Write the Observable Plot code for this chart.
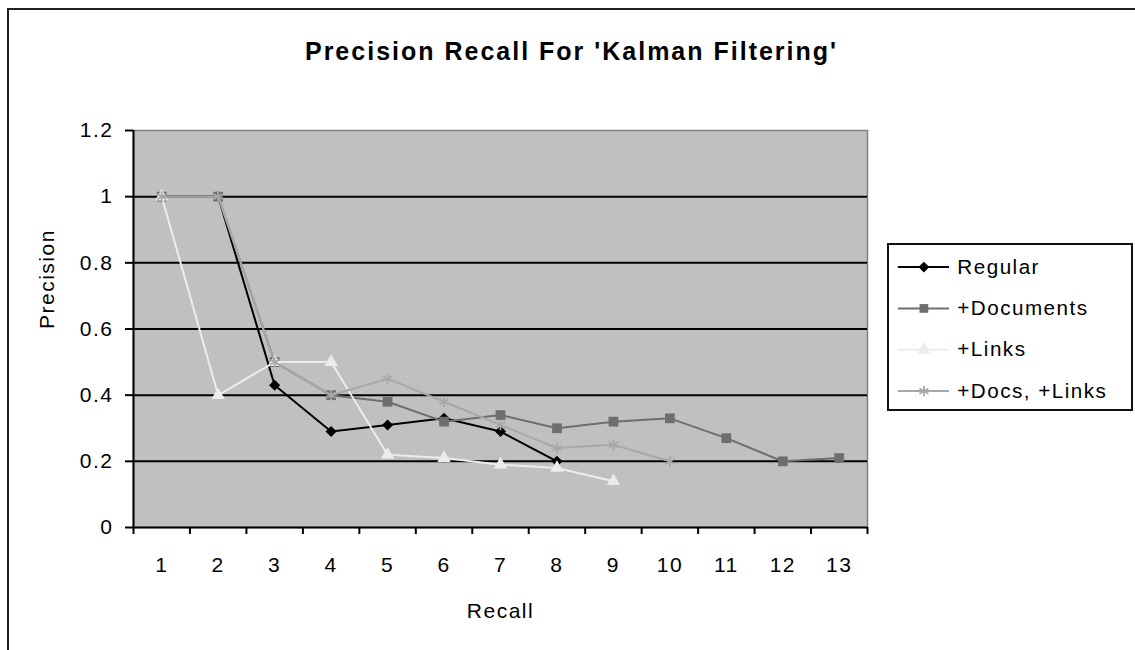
<!DOCTYPE html>
<html>
<head>
<meta charset="utf-8">
<script src="https://cdn.jsdelivr.net/npm/d3@7"></script>
<script src="https://cdn.jsdelivr.net/npm/@observablehq/plot@0.6"></script>
<style>
  html, body { margin: 0; padding: 0; background: #fff; overflow: hidden; }
  #wrap { position: relative; width: 1135px; height: 650px; overflow: hidden; font-family: "Liberation Sans", Arial, sans-serif; }
  #border { position: absolute; left: 7px; top: 8px; width: 1300px; height: 900px; border-top: 2px solid #222; border-left: 2px solid #222; }
  #chart { position: absolute; left: 0; top: 0; }
  #legend { position: absolute; left: 887px; top: 243px; width: 242px; height: 164px; border: 2px solid #111; background: #fff; }
  #legend svg { position: absolute; left: -2px; top: -2px; }
</style>
</head>
<body>
<div id="wrap">
  <div id="border"></div>
  <div id="chart"></div>
  <div id="legend"></div>
</div>
<script>
const titleText = "Precision Recall For 'Kalman Filtering'";
const xLabel = "Recall";
const yLabel = "Precision";
const categories = [1, 2, 3, 4, 5, 6, 7, 8, 9, 10, 11, 12, 13];
const yTicks = [0, 0.2, 0.4, 0.6, 0.8, 1, 1.2];
const seriesNames = ["Regular", "+Documents", "+Links", "+Docs, +Links"];
const regular = [1, 1, 0.43, 0.29, 0.31, 0.33, 0.29, 0.2];
const documents = [1, 1, 0.5, 0.4, 0.38, 0.32, 0.34, 0.3, 0.32, 0.33, 0.27, 0.2, 0.21];
const links = [1, 0.4, 0.5, 0.5, 0.22, 0.21, 0.19, 0.18, 0.14];
const docsLinks = [1, 1, 0.5, 0.4, 0.45, 0.38, 0.31, 0.24, 0.25, 0.2];

const seriesValues = [regular, documents, links, docsLinks];
const colors = ["#000000", "#6e6e6e", "#ececec", "#a8a8a8"];
const symbols = ["diamond2", "square", "triangle", "asterisk"];

const data = [];
seriesNames.forEach((name, si) => {
  seriesValues[si].forEach((v, i) => {
    if (v != null) data.push({series: name, recall: categories[i], precision: v});
  });
});
const boundaries = d3.range(categories.length + 1).map(i => categories[0] - 0.5 + i);
const fmt = d => String(+(+d).toFixed(1));

const marks = [
  Plot.frame({fill: "#c0c0c0", stroke: "#808080", strokeWidth: 1.5}),
  Plot.ruleY(yTicks.filter(d => d > 0 && d < 1.2), {stroke: "#000", strokeWidth: 2}),
  Plot.ruleY([0], {stroke: "#000", strokeWidth: 2}),
  Plot.ruleX([boundaries[0]], {stroke: "#000", strokeWidth: 2}),
  Plot.axisY({ticks: yTicks, tickSize: 8, tickPadding: 12, tickFormat: fmt, label: null, stroke: "#000", strokeWidth: 2}),
  Plot.axisX({ticks: boundaries, tickSize: 7, tickFormat: () => "", label: null, stroke: "#000", strokeWidth: 2}),
  Plot.axisX({ticks: categories, tickSize: 0, tickPadding: 30, tickFormat: d => String(d), label: null})
];
seriesNames.forEach((name, si) => {
  const d = data.filter(r => r.series === name);
  marks.push(Plot.line(d, {x: "recall", y: "precision", stroke: colors[si], strokeWidth: 2}));
  const isStroke = symbols[si] === "asterisk";
  marks.push(Plot.dot(d, {
    x: "recall", y: "precision", symbol: () => symbols[si],
    r: si === 1 ? 5.5 : 5,
    fill: isStroke ? "none" : colors[si],
    stroke: isStroke ? colors[si] : "none",
    strokeWidth: isStroke ? 1.8 : 0
  }));
});
marks.push(
  Plot.text([yLabel], {frameAnchor: "left", dx: -86, rotate: -90, text: d => d, fontSize: 21, fill: "#000"}),
  Plot.text([xLabel], {frameAnchor: "bottom", dy: 84, lineAnchor: "middle", text: d => d, fontSize: 21, fill: "#000"}),
  Plot.text([titleText], {frameAnchor: "top", dx: 71, dy: -79, lineAnchor: "middle", text: d => d, fontSize: 25, fontWeight: "bold", fill: "#000", style: "letter-spacing:2px"})
);

const chart = Plot.plot({
  width: 1135, height: 650,
  marginLeft: 133, marginRight: 268, marginTop: 130, marginBottom: 123,
  style: {background: "transparent", fontFamily: "'Liberation Sans', Arial, sans-serif", fontSize: "21px", color: "#000", overflow: "visible", letterSpacing: "1.5px"},
  x: {type: "linear", domain: [boundaries[0], boundaries[boundaries.length - 1]]},
  y: {domain: [0, 1.2]},
  symbol: {type: "identity"},
  marks
});
document.getElementById("chart").appendChild(chart);
// slightly wider spacing for the title only
chart.querySelectorAll("text").forEach(t => {
  if (t.textContent === titleText) t.setAttribute("letter-spacing", "2px");
});

// legend built from the same series definitions
const legendData = seriesNames.map((name, si) => ({name, si}));
const legend = Plot.plot({
  width: 246, height: 168,
  marginLeft: 11, marginRight: 183, marginTop: 24, marginBottom: 18,
  style: {background: "transparent", fontFamily: "'Liberation Sans', Arial, sans-serif", fontSize: "21px", color: "#000", overflow: "visible", letterSpacing: "1.5px"},
  x: {domain: [0, 1], axis: null},
  y: {type: "point", domain: seriesNames, padding: 0, axis: null},
  symbol: {type: "identity"},
  marks: [
    Plot.ruleY(legendData, {y: "name", x1: 0, x2: 1, stroke: d => colors[d.si], strokeWidth: 2}),
    Plot.dot(legendData, {x: 0.5, y: "name", symbol: d => symbols[d.si], r: 5,
      fill: d => symbols[d.si] === "asterisk" ? "none" : colors[d.si],
      stroke: d => symbols[d.si] === "asterisk" ? colors[d.si] : "none", strokeWidth: 1.8}),
    Plot.text(legendData, {x: 1, y: "name", text: "name", dx: 8, textAnchor: "start", fill: "#000"})
  ]
});
document.getElementById("legend").appendChild(legend);
</script>
</body>
</html>
